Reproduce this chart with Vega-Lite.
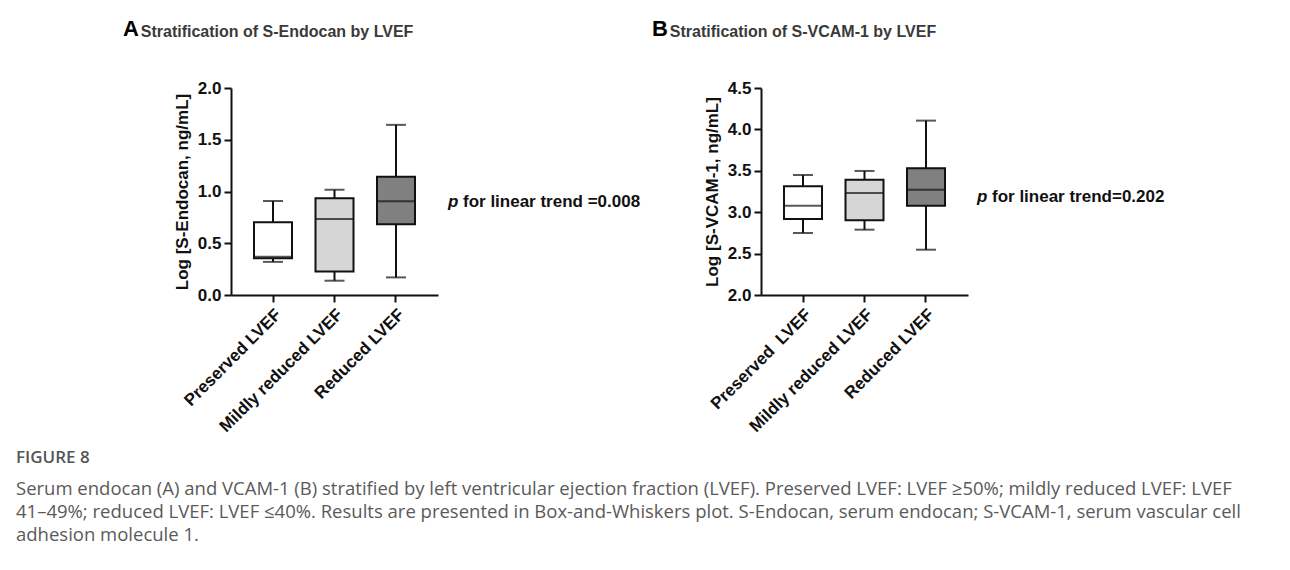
{
  "$schema": "https://vega.github.io/schema/vega-lite/v6.json",
  "background": "white",
  "padding": {"left": 16, "top": 18, "right": 10, "bottom": 10},
  "bounds": "flush",
  "spacing": 323,
  "config": {
    "view": {"stroke": null},
    "font": "Liberation Sans",
    "axis": {
      "grid": false,
      "domainColor": "#111111",
      "domainWidth": 2,
      "tickColor": "#111111",
      "tickWidth": 2,
      "tickSize": 7,
      "labelFont": "Liberation Sans",
      "labelFontWeight": "bold",
      "labelFontSize": 17,
      "labelColor": "#111111",
      "labelPadding": 3,
      "titleFont": "Liberation Sans",
      "titleFontWeight": "bold",
      "titleFontSize": 17,
      "titleColor": "#111111"
    }
  },
  "title": {
    "text": "FIGURE 8",
    "subtitle": [
      "Serum endocan (A) and VCAM-1 (B) stratified by left ventricular ejection fraction (LVEF). Preserved LVEF: LVEF ≥50%; mildly reduced LVEF: LVEF",
      "41–49%; reduced LVEF: LVEF ≤40%. Results are presented in Box-and-Whiskers plot. S-Endocan, serum endocan; S-VCAM-1, serum vascular cell",
      "adhesion molecule 1."
    ],
    "orient": "bottom",
    "anchor": "start",
    "frame": "group",
    "dx": -215,
    "offset": 15,
    "font": "Open Sans",
    "fontSize": 17,
    "fontWeight": 600,
    "color": "#555555",
    "subtitleFont": "Open Sans",
    "subtitleFontSize": 18.5,
    "subtitleColor": "#5a5a5a",
    "subtitleLineHeight": 23,
    "subtitlePadding": 13
  },
  "hconcat": [
    {
      "width": 207,
      "height": 207,
      "title": {
        "text": "A",
        "subtitle": "\u200b\u00a0\u00a0\u00a0\u00a0Stratification of S-Endocan by LVEF",
        "anchor": "start",
        "frame": "group",
        "dx": -108,
        "offset": 38,
        "fontSize": 22,
        "fontWeight": "bold",
        "color": "#000000",
        "subtitleFontSize": 16,
        "subtitleFontWeight": "bold",
        "subtitleColor": "#3a3a3a",
        "subtitlePadding": -17
      },
      "data": {"values": [
        {"group": "Preserved LVEF", "min": 0.32, "q1": 0.355, "median": 0.37, "q3": 0.703, "max": 0.908},
        {"group": "Mildly reduced LVEF", "min": 0.138, "q1": 0.226, "median": 0.734, "q3": 0.934, "max": 1.017},
        {"group": "Reduced LVEF", "min": 0.17, "q1": 0.683, "median": 0.905, "q3": 1.142, "max": 1.644}
      ]},
      "encoding": {
        "x": {"field": "group", "type": "nominal", "sort": null, "title": null,
              "scale": {"paddingInner": 0.366, "paddingOuter": 0.366},
              "axis": {"labelAngle": -45, "labelPadding": 4}}
      },
      "layer": [
        {"mark": {"type": "rule", "color": "#111111", "strokeWidth": 2},
         "encoding": {"y": {"field": "min", "type": "quantitative", "title": "Log [S-Endocan, ng/mL]",
                            "scale": {"domain": [0, 2], "nice": false},
                            "axis": {"values": [0, 0.5, 1, 1.5, 2], "format": ".1f", "titlePadding": 6}},
                      "y2": {"field": "max"}}},
        {"mark": {"type": "tick", "color": "#111111", "thickness": 2, "size": 20},
         "encoding": {"y": {"field": "min", "type": "quantitative", "title": "Log [S-Endocan, ng/mL]"}}},
        {"mark": {"type": "tick", "color": "#111111", "thickness": 2, "size": 20},
         "encoding": {"y": {"field": "max", "type": "quantitative", "title": "Log [S-Endocan, ng/mL]"}}},
        {"mark": {"type": "bar", "stroke": "#111111", "strokeWidth": 2, "size": 38},
         "encoding": {"y": {"field": "q1", "type": "quantitative", "title": "Log [S-Endocan, ng/mL]"},
                      "y2": {"field": "q3"},
                      "fill": {"field": "group", "type": "nominal", "legend": null,
                               "scale": {"domain": ["Preserved LVEF", "Mildly reduced LVEF", "Reduced LVEF"],
                                         "range": ["#ffffff", "#d6d6d6", "#808080"]}}}},
        {"mark": {"type": "tick", "color": "#111111", "thickness": 2, "size": 38},
         "encoding": {"y": {"field": "median", "type": "quantitative", "title": "Log [S-Endocan, ng/mL]"}}},
        {"data": {"values": [{"group": "Reduced LVEF", "y": 0.9, "label": "p"}]},
         "mark": {"type": "text", "align": "left", "baseline": "middle", "dx": 52, "fontSize": 17, "fontWeight": "bold", "fontStyle": "italic", "color": "#111111"},
         "encoding": {"y": {"field": "y", "type": "quantitative", "title": "Log [S-Endocan, ng/mL]"}, "text": {"field": "label"}}},
        {"data": {"values": [{"group": "Reduced LVEF", "y": 0.9, "label": "for linear trend =0.008"}]},
         "mark": {"type": "text", "align": "left", "baseline": "middle", "dx": 67, "fontSize": 17, "fontWeight": "bold", "color": "#111111"},
         "encoding": {"y": {"field": "y", "type": "quantitative", "title": "Log [S-Endocan, ng/mL]"}, "text": {"field": "label"}}}
      ]
    },
    {
      "width": 207,
      "height": 207,
      "title": {
        "text": "B",
        "subtitle": "\u200b\u00a0\u00a0\u00a0\u00a0Stratification of S-VCAM-1 by LVEF",
        "anchor": "start",
        "frame": "group",
        "dx": -109,
        "offset": 38,
        "fontSize": 22,
        "fontWeight": "bold",
        "color": "#000000",
        "subtitleFontSize": 16,
        "subtitleFontWeight": "bold",
        "subtitleColor": "#3a3a3a",
        "subtitlePadding": -17
      },
      "data": {"values": [
        {"group": "Preserved \u00a0LVEF", "min": 2.749, "q1": 2.918, "median": 3.079, "q3": 3.313, "max": 3.449},
        {"group": "Mildly reduced LVEF", "min": 2.789, "q1": 2.902, "median": 3.232, "q3": 3.393, "max": 3.498},
        {"group": "Reduced LVEF", "min": 2.547, "q1": 3.079, "median": 3.272, "q3": 3.53, "max": 4.106}
      ]},
      "encoding": {
        "x": {"field": "group", "type": "nominal", "sort": null, "title": null,
              "scale": {"paddingInner": 0.366, "paddingOuter": 0.366},
              "axis": {"labelAngle": -45, "labelPadding": 4}}
      },
      "layer": [
        {"mark": {"type": "rule", "color": "#111111", "strokeWidth": 2},
         "encoding": {"y": {"field": "min", "type": "quantitative", "title": "Log [S-VCAM-1, ng/mL]",
                            "scale": {"domain": [2, 4.5], "nice": false, "zero": false},
                            "axis": {"values": [2, 2.5, 3, 3.5, 4, 4.5], "format": ".1f", "titlePadding": 6}},
                      "y2": {"field": "max"}}},
        {"mark": {"type": "tick", "color": "#111111", "thickness": 2, "size": 20},
         "encoding": {"y": {"field": "min", "type": "quantitative", "title": "Log [S-VCAM-1, ng/mL]"}}},
        {"mark": {"type": "tick", "color": "#111111", "thickness": 2, "size": 20},
         "encoding": {"y": {"field": "max", "type": "quantitative", "title": "Log [S-VCAM-1, ng/mL]"}}},
        {"mark": {"type": "bar", "stroke": "#111111", "strokeWidth": 2, "size": 38},
         "encoding": {"y": {"field": "q1", "type": "quantitative", "title": "Log [S-VCAM-1, ng/mL]"},
                      "y2": {"field": "q3"},
                      "fill": {"field": "group", "type": "nominal", "legend": null,
                               "scale": {"domain": ["Preserved \u00a0LVEF", "Mildly reduced LVEF", "Reduced LVEF"],
                                         "range": ["#ffffff", "#d6d6d6", "#808080"]}}}},
        {"mark": {"type": "tick", "color": "#111111", "thickness": 2, "size": 38},
         "encoding": {"y": {"field": "median", "type": "quantitative", "title": "Log [S-VCAM-1, ng/mL]"}}},
        {"data": {"values": [{"group": "Reduced LVEF", "y": 3.18, "label": "p"}]},
         "mark": {"type": "text", "align": "left", "baseline": "middle", "dx": 51, "fontSize": 17, "fontWeight": "bold", "fontStyle": "italic", "color": "#111111"},
         "encoding": {"y": {"field": "y", "type": "quantitative", "title": "Log [S-VCAM-1, ng/mL]"}, "text": {"field": "label"}}},
        {"data": {"values": [{"group": "Reduced LVEF", "y": 3.18, "label": "for linear trend=0.202"}]},
         "mark": {"type": "text", "align": "left", "baseline": "middle", "dx": 66, "fontSize": 17, "fontWeight": "bold", "color": "#111111"},
         "encoding": {"y": {"field": "y", "type": "quantitative", "title": "Log [S-VCAM-1, ng/mL]"}, "text": {"field": "label"}}}
      ]
    }
  ]
}
